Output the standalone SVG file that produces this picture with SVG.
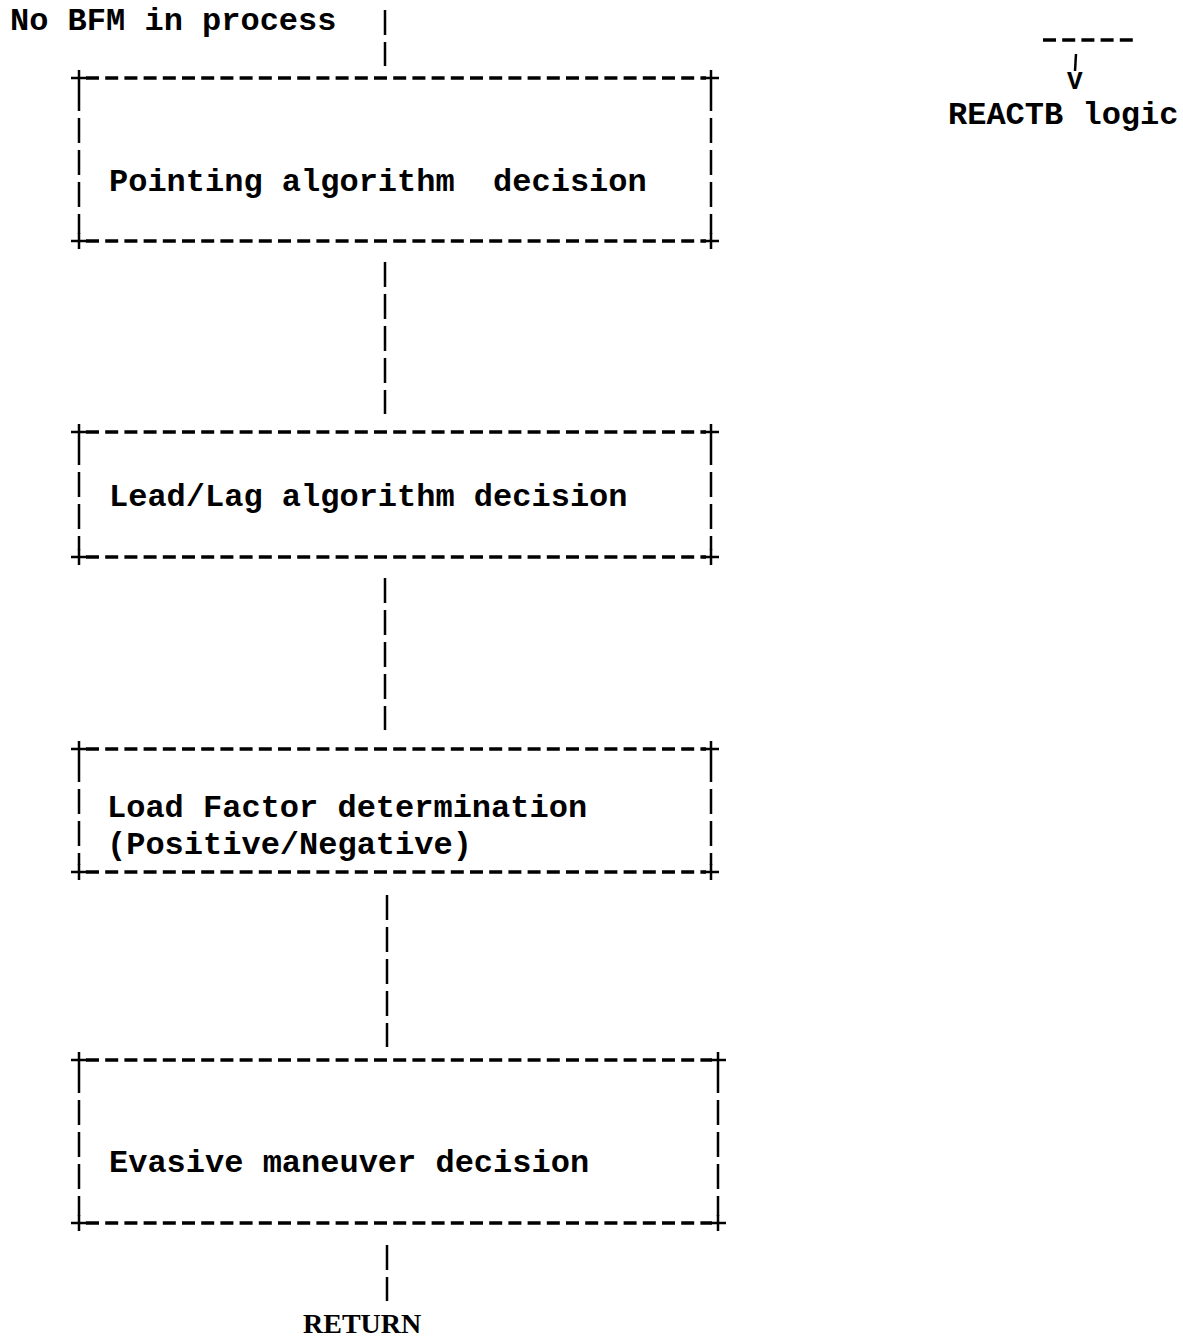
<svg xmlns="http://www.w3.org/2000/svg" width="1183" height="1337" viewBox="0 0 1183 1337">
<style>
.bg{fill:#fff}
.t{font-family:"Liberation Mono","Courier New",monospace;font-size:32px;font-weight:bold;fill:#000}
.a{font-family:"Liberation Mono","Courier New",monospace;font-size:26px;font-weight:bold;fill:#000}
.r{font-family:"Liberation Serif","Times New Roman",serif;font-size:28px;font-weight:bold;fill:#000}
.h{stroke:#000;stroke-width:3.5;stroke-dasharray:13 6.2;fill:none}
.v{stroke:#000;stroke-width:2.5;stroke-dasharray:25 7;fill:none}
.p{stroke:#000;stroke-width:2.5;fill:none}
</style>
<defs>
<path id="plus" class="p" d="M-8,0H8M0,-8V8"/>
</defs>
<rect class="bg" width="1183" height="1337"/>
<text class="t" x="10" y="30">No BFM in process</text>
<g id="connectors">
<line class="v" x1="385" y1="10" x2="385" y2="66"/>
<line class="v" x1="385" y1="262" x2="385" y2="414"/>
<line class="v" x1="385" y1="578" x2="385" y2="730"/>
<line class="v" x1="387" y1="895" x2="387" y2="1047"/>
<line class="v" x1="387" y1="1245" x2="387" y2="1301"/>
</g>
<g id="node1">
<line class="h" x1="86" y1="78" x2="706" y2="78"/>
<line class="h" x1="86" y1="241" x2="706" y2="241"/>
<line class="v" x1="79" y1="86" x2="79" y2="234"/>
<line class="v" x1="711" y1="86" x2="711" y2="234"/>
<use href="#plus" x="79" y="78"/><use href="#plus" x="711" y="78"/>
<use href="#plus" x="79" y="241"/><use href="#plus" x="711" y="241"/>
<text class="t" x="109" y="191" xml:space="preserve">Pointing algorithm  decision</text>
</g>
<g id="node2">
<line class="h" x1="86" y1="432" x2="706" y2="432"/>
<line class="h" x1="86" y1="557" x2="706" y2="557"/>
<line class="v" x1="79" y1="440" x2="79" y2="550"/>
<line class="v" x1="711" y1="440" x2="711" y2="550"/>
<use href="#plus" x="79" y="432"/><use href="#plus" x="711" y="432"/>
<use href="#plus" x="79" y="557"/><use href="#plus" x="711" y="557"/>
<text class="t" x="109" y="506">Lead/Lag algorithm decision</text>
</g>
<g id="node3">
<line class="h" x1="86" y1="749" x2="706" y2="749"/>
<line class="h" x1="86" y1="872" x2="706" y2="872"/>
<line class="v" x1="79" y1="757" x2="79" y2="865"/>
<line class="v" x1="711" y1="757" x2="711" y2="865"/>
<use href="#plus" x="79" y="749"/><use href="#plus" x="711" y="749"/>
<use href="#plus" x="79" y="872"/><use href="#plus" x="711" y="872"/>
<text class="t" x="107" y="817">Load Factor determination</text>
<text class="t" x="107" y="854">(Positive/Negative)</text>
</g>
<g id="node4">
<line class="h" x1="86" y1="1060" x2="712" y2="1060"/>
<line class="h" x1="86" y1="1223" x2="712" y2="1223"/>
<line class="v" x1="79" y1="1068" x2="79" y2="1216"/>
<line class="v" x1="718" y1="1068" x2="718" y2="1216"/>
<use href="#plus" x="79" y="1060"/><use href="#plus" x="718" y="1060"/>
<use href="#plus" x="79" y="1223"/><use href="#plus" x="718" y="1223"/>
<text class="t" x="109" y="1172">Evasive maneuver decision</text>
</g>
<text class="r" x="303" y="1333">RETURN</text>
<g id="reactb">
<line class="h" x1="1043" y1="40" x2="1138" y2="40"/>
<line class="p" x1="1076" y1="54" x2="1075" y2="71"/>
<text class="a" x="1067" y="89">V</text>
<text class="t" x="948" y="124">REACTB logic</text>
</g>
</svg>
